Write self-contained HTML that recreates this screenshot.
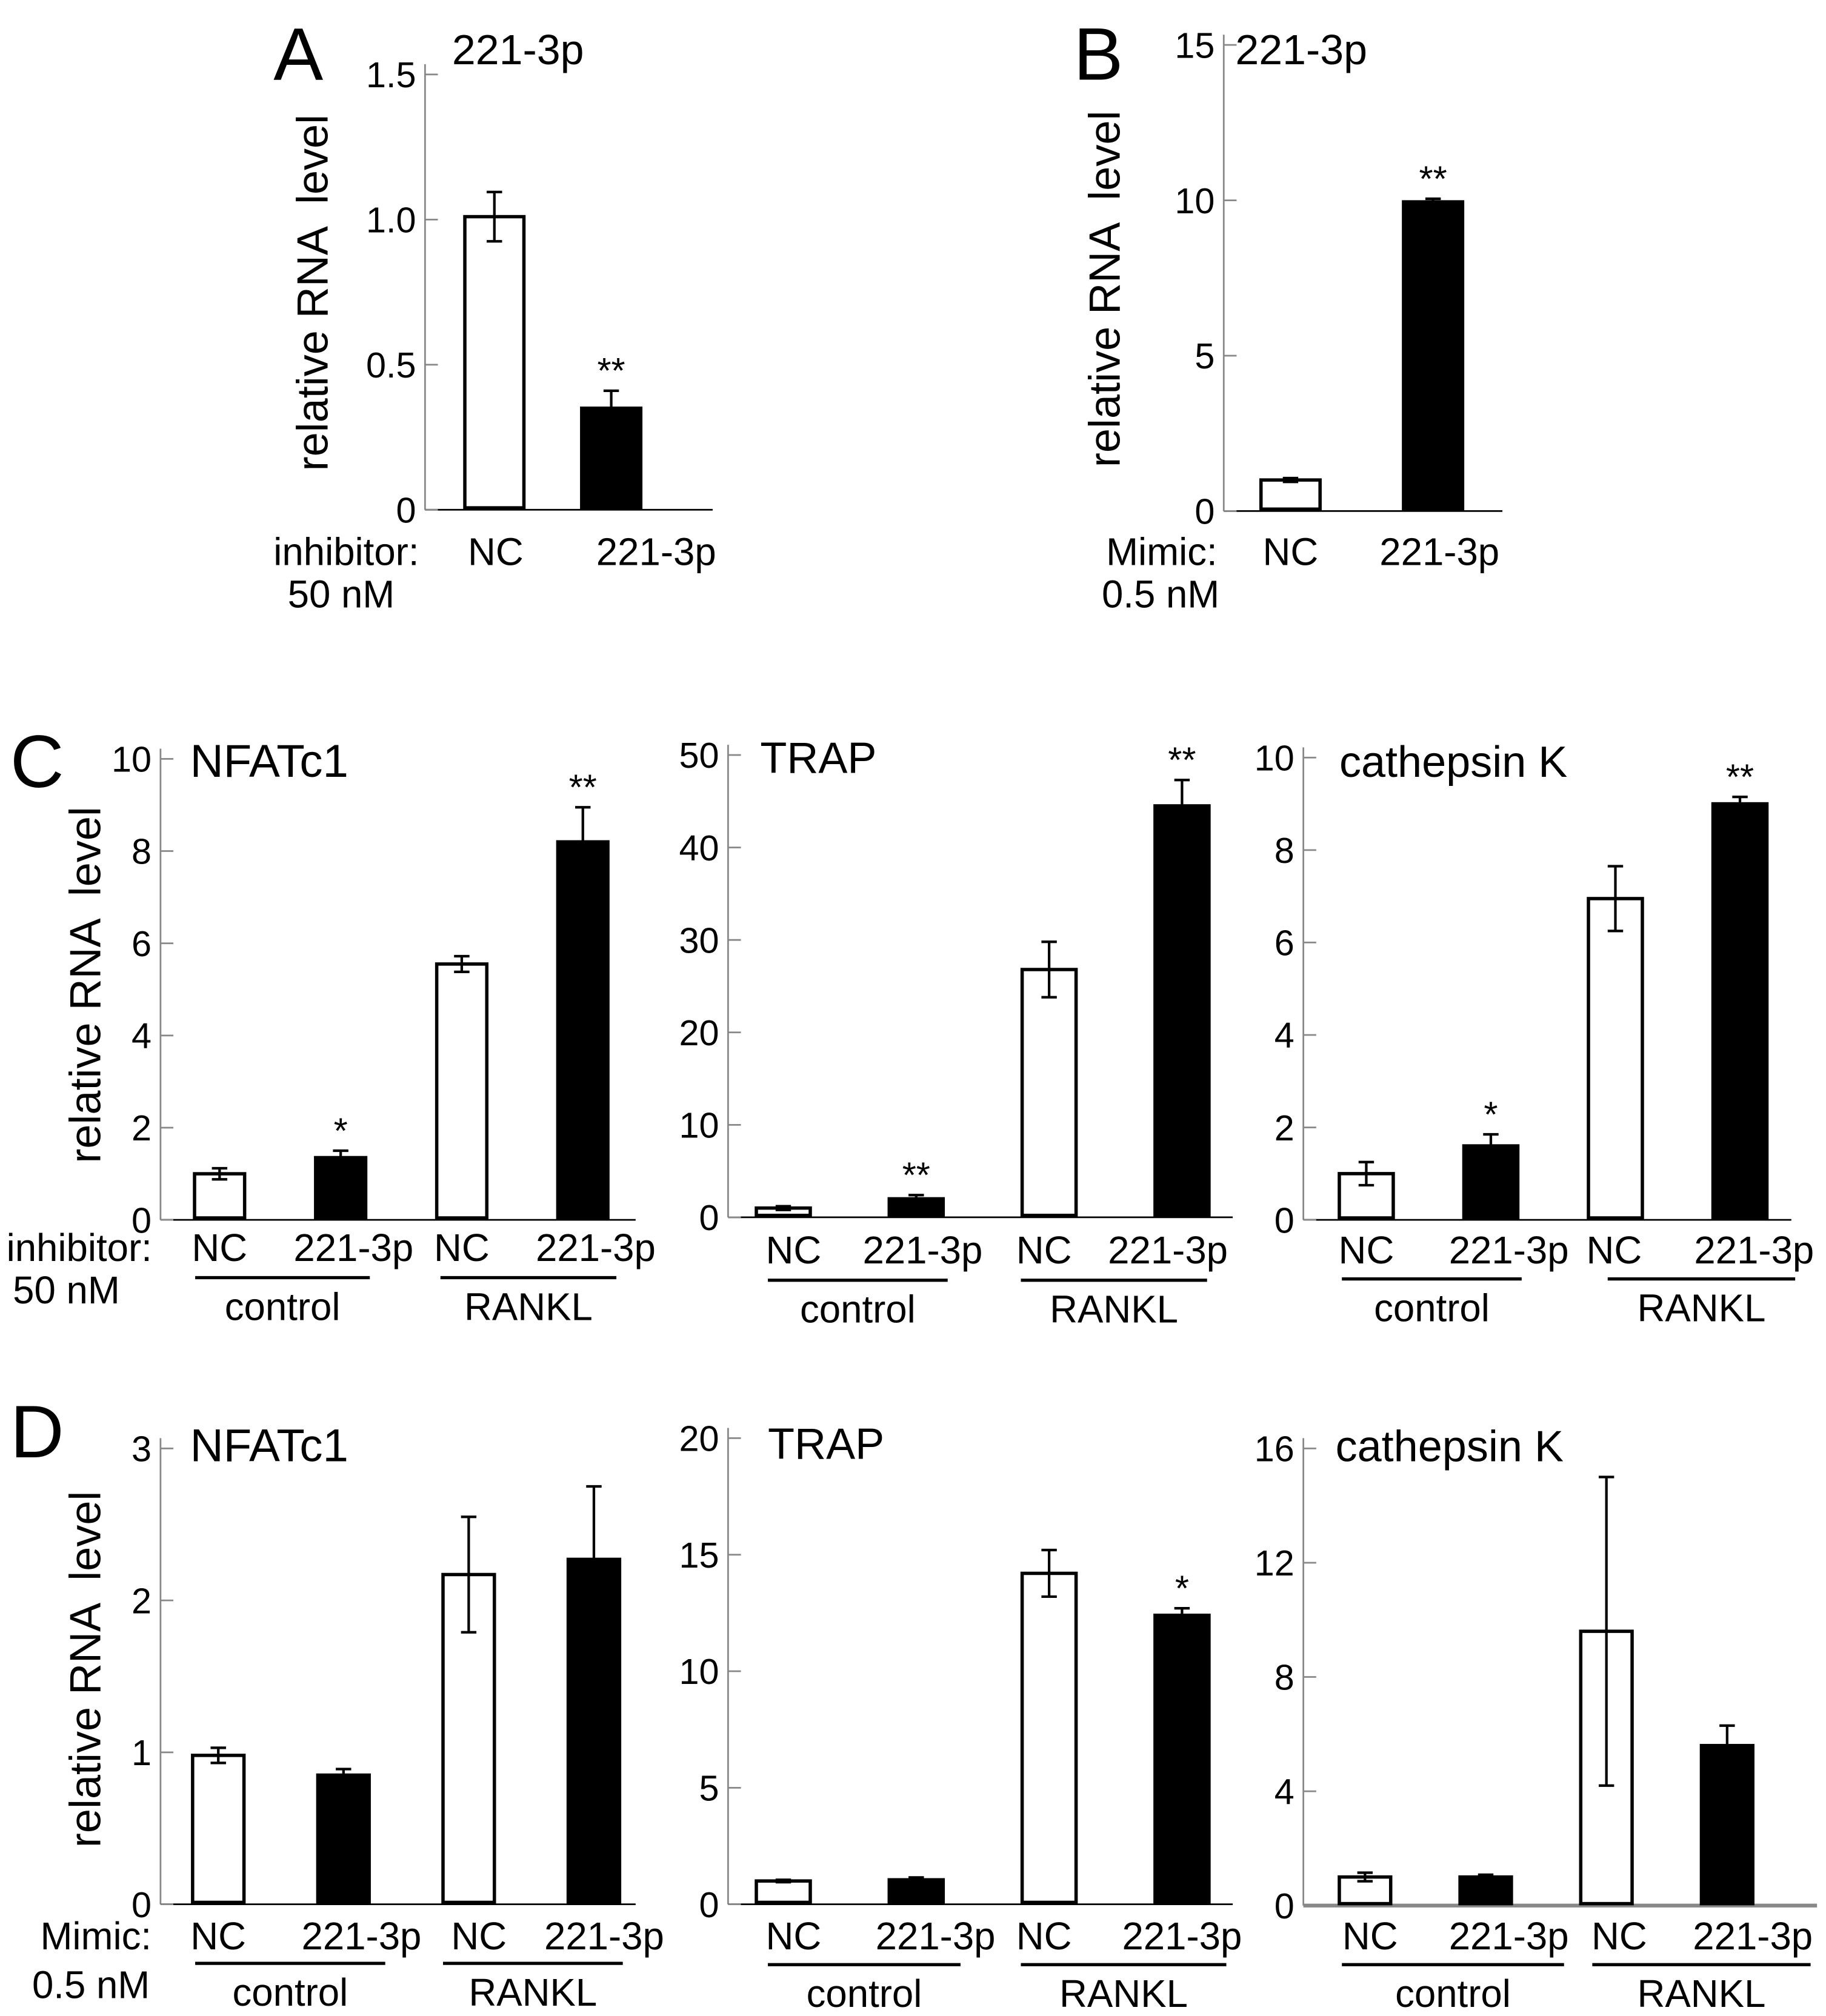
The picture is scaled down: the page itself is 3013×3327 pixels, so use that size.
<!DOCTYPE html>
<html><head><meta charset="utf-8"><style>
html,body{margin:0;padding:0;background:#fff;}
svg{display:block;font-family:"Liberation Sans",Arial,sans-serif;}
</style></head><body>
<svg id="fig" width="3013" height="3327" viewBox="0 0 1422 1570" preserveAspectRatio="none" xmlns="http://www.w3.org/2000/svg"></svg>
<script>
// ---- data ----
const catsAB = ["NC","221-3p"];
const cats4 = ["NC","221-3p","NC","221-3p"];
const aValues = [1.01, 0.35];
const aErrors = [0.085, 0.06];
const aStars = ["", "**"];
const aTicks = [0, 0.5, 1.0, 1.5];
const aTickLabels = ["0","0.5","1.0","1.5"];
const bValues = [1.0, 9.95];
const bErrors = [0.06, 0.1];
const bStars = ["", "**"];
const bTicks = [0,5,10,15];
const bTickLabels = ["0","5","10","15"];
const c1Values = [1.0, 1.35, 5.55, 8.2];
const c1Errors = [0.12, 0.15, 0.17, 0.75];
const c1Stars = ["", "*", "", "**"];
const c1Ticks = [0,2,4,6,8,10];
const c1TickLabels = ["0","2","4","6","8","10"];
const c2Values = [1.0, 2.0, 26.8, 44.5];
const c2Errors = [0.2, 0.4, 3.0, 2.8];
const c2Stars = ["", "**", "", "**"];
const c2Ticks = [0,10,20,30,40,50];
const c2TickLabels = ["0","10","20","30","40","50"];
const c3Values = [1.0, 1.6, 6.95, 9.0];
const c3Errors = [0.25, 0.25, 0.7, 0.15];
const c3Stars = ["", "*", "", "**"];
const c3Ticks = [0,2,4,6,8,10];
const c3TickLabels = ["0","2","4","6","8","10"];
const d1Values = [0.98, 0.85, 2.17, 2.27];
const d1Errors = [0.05, 0.04, 0.38, 0.48];
const d1Stars = ["", "", "", ""];
const d1Ticks = [0,1,2,3];
const d1TickLabels = ["0","1","2","3"];
const d2Values = [1.0, 1.05, 14.2, 12.4];
const d2Errors = [0.05, 0.1, 1.0, 0.3];
const d2Stars = ["", "", "", "*"];
const d2Ticks = [0,5,10,15,20];
const d2TickLabels = ["0","5","10","15","20"];
const d3Values = [1.0, 1.0, 9.6, 5.6];
const d3Errors = [0.15, 0.08, 5.4, 0.7];
const d3Stars = ["", "", "", ""];
const d3Ticks = [0,4,8,12,16];
const d3TickLabels = ["0","4","8","12","16"];

const NS = "http://www.w3.org/2000/svg";
const svg = document.getElementById("fig");
function mk(tag, attrs, parent, text){
  const e = document.createElementNS(NS, tag);
  for (const k in attrs) e.setAttribute(k, attrs[k]);
  if (text !== undefined) e.textContent = text;
  (parent || svg).appendChild(e);
  return e;
}

function panel(o){
  const g = mk("g", {});
  
  
  const y = v => o.y0 - (v - 0) / o.vmax * (o.y0 - o.yTop);
  const x = i => o.x0 + i * o.step;
  const ax = mk("line", {x1:o.ax, y1:o.yTop - 8, x2:o.ax, y2:o.y0, stroke:"#888", "stroke-width":1.3}, g);
  
  
  const xa = mk("line", {x1:o.ax, y1:o.y0, x2:o.axEnd, y2:o.y0, stroke:o.xaColor || "#000", "stroke-width":o.xaW || 1.3}, g);
  
  
  o.ticks.forEach((t, i) => {
    const tk = mk("line", {x1:o.ax, y1:y(t), x2:o.ax + 10, y2:y(t), stroke:"#888", "stroke-width":1.3}, g);
    
    
    const tl = mk("text", {x:o.ax - 7, y:y(t) + 10, "font-size":o.tfs || 28, "text-anchor":"end"}, g, o.tickLabels[i]);
    
    
  });
  o.values.forEach((v, i) => {
    const cx = x(i), w = o.bw, black = i % 2 === 1;
    const r = mk("rect", {x:cx - w/2, y:y(v), width:w, height:o.y0 - y(v) - 1.5,
      fill: black ? "#000" : "#fff", stroke:"#000", "stroke-width":2.6}, g);
    
    
    const e = o.errors[i];
    const eg = mk("path", {d:`M${cx},${y(v+e)}V${y(v-e)}M${cx-6},${y(v+e)}H${cx+6}M${cx-6},${y(v-e)}H${cx+6}`,
      stroke: "#000", "stroke-width":2, fill:"none"}, g);
    
    
    if (o.stars[i]) {
      const st = mk("text", {x:cx, y:y(v+e) - 6, "font-size":28, "text-anchor":"middle"}, g, o.stars[i]);
      
      
    }
    const cl = mk("text", {x:cx + (o.lblShift ? o.lblShift[i] : 0), y:o.lblY, "font-size":30, "text-anchor":"middle"}, g, o.cats[i]);
    
    
  });
  const tt = mk("text", {x:o.titleX, y:o.titleY, "font-size":o.titleFs || 34}, g, o.title);
  
  
  if (o.groups) {
    o.groups.forEach(gr => {
      const ln = mk("line", {x1:gr[0], y1:o.lineY, x2:gr[1], y2:o.lineY, stroke:"#000", "stroke-width":2.5}, g);
      
      
      const gt = mk("text", {x:(gr[0]+gr[1])/2, y:o.lineY + 33, "font-size":30, "text-anchor":"middle"}, g, gr[2]);
      
      
    });
  }
  if (o.yTitle) {
    const yt = mk("text", {x:0, y:0, "font-size":34, "text-anchor":"middle", style:"white-space:pre",
      transform:`translate(${o.yTitle[0]},${o.yTitle[1]}) rotate(-90)`}, g, "relative RNA  level");
    
    
  }
}

function label(t, xx, yy, fs, name, anchor){
  const e = mk("text", {x:xx, y:yy, "font-size":fs, "text-anchor":anchor || "start"}, svg, t);
  
  
}

// Panel A
panel({name:"panel-a", ax:331, axEnd:555, y0:397, yTop:58, vmax:1.5, ticks:aTicks, tickLabels:aTickLabels,
  values:aValues, errors:aErrors, stars:aStars, cats:catsAB, x0:385, step:91, bw:46, lblY:440, lblShift:[1,35],
  title:"221-3p", titleX:352, titleY:50, titleFs:33, yTitle:[255,228]});
label("A", 213, 62, 58, "panel-letter-a");
label("inhibitor:", 213, 440, 30, "treatment-label");
label("50 nM", 224, 473, 30, "dose-label");
// Panel B
panel({name:"panel-b", ax:953, axEnd:1170, y0:398, yTop:35, vmax:15, ticks:bTicks, tickLabels:bTickLabels,
  values:bValues, errors:bErrors, stars:bStars, cats:catsAB, x0:1005, step:111, bw:46, lblY:440, lblShift:[0,5],
  title:"221-3p", titleX:962, titleY:50, titleFs:33, yTitle:[872,225]});
label("B", 836, 62, 58, "panel-letter-b");
label("Mimic:", 948, 440, 30, "treatment-label", "end");
label("0.5 nM", 858, 473, 30, "dose-label");
// Panel C
panel({name:"panel-c-nfatc1", ax:125, axEnd:495, y0:950, yTop:591, vmax:10, ticks:c1Ticks, tickLabels:c1TickLabels,
  values:c1Values, errors:c1Errors, stars:c1Stars, cats:cats4, x0:171, step:94.3, bw:39, lblY:982,
  title:"NFATc1", titleX:148, titleY:605, titleFs:36, groups:[[152,288,"control"],[343,480,"RANKL"]], lineY:995, yTitle:[78,767], lblShift:[0,10,0,10]});
label("C", 8, 613, 58, "panel-letter-c");
label("inhibitor:", 5, 982, 30, "treatment-label");
label("50 nM", 10, 1015, 30, "dose-label");
panel({name:"panel-c-trap", ax:567, axEnd:960, y0:948, yTop:588, vmax:50, ticks:c2Ticks, tickLabels:c2TickLabels,
  values:c2Values, errors:c2Errors, stars:c2Stars, cats:cats4, x0:610, step:103.5, bw:42, lblY:984,
  title:"TRAP", titleX:592, titleY:602, groups:[[598,738,"control"],[795,940,"RANKL"]], lineY:997, lblShift:[8,5,-4,-11]});
panel({name:"panel-c-cathepsin-k", ax:1015, axEnd:1395, y0:950, yTop:590, vmax:10, ticks:c3Ticks, tickLabels:c3TickLabels,
  values:c3Values, errors:c3Errors, stars:c3Stars, cats:cats4, x0:1064, step:97, bw:42, lblY:984,
  title:"cathepsin K", titleX:1043, titleY:605, groups:[[1045,1185,"control"],[1252,1398,"RANKL"]], lineY:996, lblShift:[0,14,-1,11]});
// Panel D
panel({name:"panel-d-nfatc1", ax:125, axEnd:495, y0:1483, yTop:1128, vmax:3, ticks:d1Ticks, tickLabels:d1TickLabels,
  values:d1Values, errors:d1Errors, stars:d1Stars, cats:cats4, x0:170, step:97.5, bw:40, lblY:1518,
  title:"NFATc1", titleX:148, titleY:1138, titleFs:36, groups:[[152,300,"control"],[345,485,"RANKL"]], lineY:1529, yTitle:[78,1300], lblShift:[0,14,8,8]});
label("D", 8, 1135, 58, "panel-letter-d");
label("Mimic:", 118, 1518, 30, "treatment-label", "end");
label("0.5 nM", 25, 1556, 30, "dose-label");
panel({name:"panel-d-trap", ax:567, axEnd:960, y0:1483, yTop:1120, vmax:20, ticks:d2Ticks, tickLabels:d2TickLabels,
  values:d2Values, errors:d2Errors, stars:d2Stars, cats:cats4, x0:610, step:103.5, bw:42, lblY:1518,
  title:"TRAP", titleX:598, titleY:1136, groups:[[598,748,"control"],[795,955,"RANKL"]], lineY:1530, lblShift:[8,15,-4,0]});
panel({name:"panel-d-cathepsin-k", ax:1015, axEnd:1415, y0:1484, yTop:1128, vmax:16, ticks:d3Ticks, tickLabels:d3TickLabels,
  values:d3Values, errors:d3Errors, stars:d3Stars, cats:cats4, x0:1063, step:94, bw:40, lblY:1518,
  title:"cathepsin K", titleX:1040, titleY:1138, groups:[[1045,1218,"control"],[1240,1410,"RANKL"]], lineY:1530,
  xaColor:"#888", xaW:3, tfs:28, lblShift:[4,18,10,20]});
</script>
</body></html>
